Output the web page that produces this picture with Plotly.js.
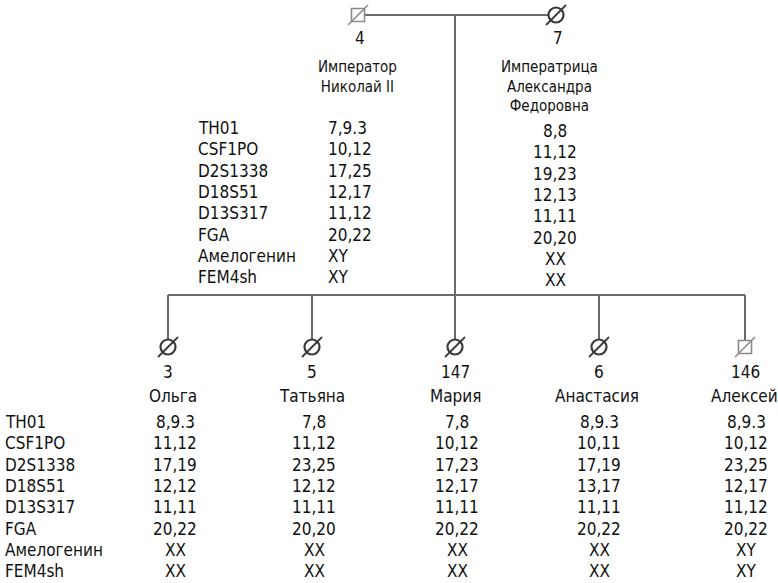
<!DOCTYPE html>
<html>
<head>
<meta charset="utf-8">
<script src="https://cdn.plot.ly/plotly-3.0.1.min.js"></script>
<style>html,body{margin:0;padding:0;background:#fff;}#chart{width:778px;height:583px;}</style>
</head>
<body>
<div id="chart"></div>
<script>
// ---- data ----
const loci = ['TH01','CSF1PO','D2S1338','D18S51','D13S317','FGA','Амелогенин','FEM4sh'];
const nicholas = ['7,9.3','10,12','17,25','12,17','11,12','20,22','XY','XY'];
const alexandra = ['8,8','11,12','19,23','12,13','11,11','20,20','XX','XX'];
const olga = ['8,9.3','11,12','17,19','12,12','11,11','20,22','XX','XX'];
const tatiana = ['7,8','11,12','23,25','12,12','11,11','20,20','XX','XX'];
const maria = ['7,8','10,12','17,23','12,17','11,11','20,22','XX','XX'];
const anastasia = ['8,9.3','10,11','17,19','13,17','11,11','20,22','XX','XX'];
const alexei = ['8,9.3','10,12','23,25','12,17','11,12','20,22','XY','XY'];
const childIds = ['3','5','147','6','146'];
const childNames = ['Ольга','Татьяна','Мария','Анастасия','Алексей'];
const childSex = ['F','F','F','F','M'];
const childValues = [olga, tatiana, maria, anastasia, alexei];
const parentIds = ['4','7'];
const parentSex = ['M','F'];
const fatherName = ['Император','Николай II'];
const motherName = ['Императрица','Александра','Федоровна'];

// ---- layout geometry ----
const W = 778, H = 583;
const FONT = 'DejaVu Sans Condensed, Liberation Sans Narrow, Arial';
const FS = 17;
const parentX = [358, 556];
const parentY = 15;
const stemX = 455;
const sibY = 295;
const childX = [168, 312, 455, 599, 745];
const childTextX = [173, 312, 455, 597, 744];
const childSymY = 347;
const rowStep = 21.3;
const parentRow0 = 128;
const childRow0 = 422;

const lineColor = '#6a6a6a';
const traces = [];
function seg(xs, ys) {
  traces.push({type:'scatter', mode:'lines', x:xs, y:ys, line:{color:lineColor, width:2}, hoverinfo:'skip', showlegend:false});
}
// marriage line & stem
seg([parentX[0], parentX[1]], [parentY, parentY]);
seg([stemX, stemX], [parentY, sibY]);
// sibship line
seg([childX[0], childX[childX.length-1]], [sibY, sibY]);
childX.forEach(x => seg([x, x], [sibY, childSymY - 7]));

// symbols
function symbols(xs, ys, sex) {
  const fx = [], fy = [], mx = [], my = [];
  xs.forEach((x, i) => { if (sex[i] === 'F') { fx.push(x); fy.push(ys[i]); } else { mx.push(x); my.push(ys[i]); } });
  traces.push({type:'scatter', mode:'markers', x:fx, y:fy, hoverinfo:'skip', showlegend:false,
    marker:{symbol:'circle', size:15, color:'#ffffff', line:{color:'#3a3a3a', width:2.2}}});
  traces.push({type:'scatter', mode:'markers', x:fx, y:fy, hoverinfo:'skip', showlegend:false,
    marker:{symbol:'line-ne', size:20, line:{color:'#3a3a3a', width:1.8}}});
  traces.push({type:'scatter', mode:'markers', x:mx, y:my, hoverinfo:'skip', showlegend:false,
    marker:{symbol:'square', size:13, color:'#ffffff', line:{color:'#8a8a8a', width:1.6}}});
  traces.push({type:'scatter', mode:'markers', x:mx, y:my, hoverinfo:'skip', showlegend:false,
    marker:{symbol:'line-ne', size:20, line:{color:'#8a8a8a', width:1.6}}});
}
symbols(parentX, [parentY, parentY], parentSex);
symbols(childX, childX.map(() => childSymY), childSex);

// text annotations
const ann = [];
function txt(x, y, t, anchor, size, yanchor) {
  ann.push({x:x, y:y, xref:'x', yref:'y', text:t, showarrow:false, xanchor:anchor || 'center', yanchor:yanchor || 'middle',
    borderpad:0, font:{family:FONT, size:size || FS, color:'#111'}});
}
parentIds.forEach((id, i) => txt(parentX[i] + 2, 38, id));
txt(357, 57, fatherName.join('<br>'), 'center', 15, 'top');
txt(549, 57, motherName.join('<br>'), 'center', 15, 'top');
loci.forEach((l, r) => {
  txt(197, parentRow0 + r * rowStep, l, 'left');
  txt(327, parentRow0 + r * rowStep, nicholas[r], 'left');
  txt(555, parentRow0 + 3 + r * rowStep, alexandra[r]);
  txt(4, childRow0 + r * rowStep, l, 'left');
  childValues.forEach((vals, c) => txt(childTextX[c] + 2, childRow0 + r * rowStep, vals[r]));
});
childIds.forEach((id, c) => txt(childX[c], 372, id));
childNames.forEach((n, c) => txt(childTextX[c], 396, n));

const layout = {
  width: W, height: H,
  margin:{l:0, r:0, t:0, b:0},
  paper_bgcolor:'#ffffff', plot_bgcolor:'#ffffff',
  xaxis:{range:[0, W], visible:false, fixedrange:true},
  yaxis:{range:[H, 0], visible:false, fixedrange:true},
  annotations: ann,
  showlegend:false
};
Plotly.newPlot('chart', traces, layout, {displayModeBar:false, staticPlot:true});
</script>
</body>
</html>
